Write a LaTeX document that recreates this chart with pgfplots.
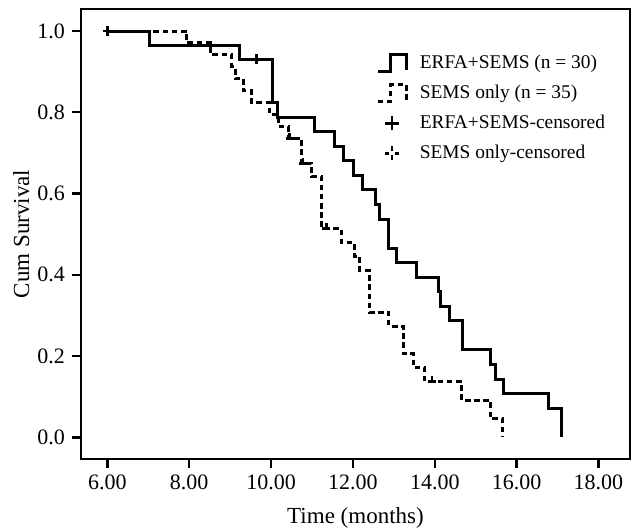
\documentclass[border=0pt]{standalone}
\usepackage{fontspec}
\setmainfont{Liberation Serif}
\usepackage{pgfplots}
\pgfplotsset{compat=1.18}

% censor tick for the dashed curve: a short upright stroke on the line
\pgfdeclareplotmark{censorT}{%
  \pgfpathmoveto{\pgfqpoint{-\pgfplotmarksize}{0pt}}%
  \pgfpathlineto{\pgfqpoint{\pgfplotmarksize}{0pt}}%
  \pgfpathmoveto{\pgfqpoint{0pt}{0pt}}%
  \pgfpathlineto{\pgfqpoint{0pt}{1.4\pgfplotmarksize}}%
  \pgfusepathqstroke}

\tikzset{
  kmdash/.style={dash pattern=on 2.8pt off 1.8pt},
}
\pgfplotsset{
  stepleg/.style={legend image code/.code={
    \path[draw=none, fill=none] (0cm,-0.16cm) rectangle (0.5cm,0.16cm);
    \draw[##1] (0cm,-0.15cm) -- (0.23cm,-0.15cm) -- (0.23cm,0.15cm)
      -- (0.5cm,0.15cm) -- (0.5cm,-0.12cm);}},
}

\begin{document}
\begin{tikzpicture}
\begin{axis}[
  scale only axis,
  width=274.5pt, height=225pt,
  xmin=5.355, xmax=18.77,
  ymin=-0.0534, ymax=1.0542,
  xtick={6,8,10,12,14,16,18},
  ytick={0,0.2,0.4,0.6,0.8,1},
  /pgf/number format/assume math mode=true,
  x tick label style={/pgf/number format/.cd, fixed, fixed zerofill, precision=2},
  y tick label style={/pgf/number format/.cd, fixed, fixed zerofill, precision=1},
  tick label style={font=\fontsize{11pt}{13pt}\selectfont},
  xtick pos=bottom, ytick pos=left,
  tick align=outside,
  major tick length=4.5pt,
  tick style={line width=1.2pt, black},
  axis line style={line width=0.9pt},
  xlabel={Time (months)},
  ylabel={Cum Survival},
  label style={font=\fontsize{11.5pt}{14pt}\selectfont},
  xlabel style={at={(axis description cs:0.5,-0.131)}, anchor=center},
  ylabel style={at={(axis description cs:-0.109,0.5)}, anchor=center},
  legend style={draw=none, fill=none, inner sep=0pt, outer sep=0pt,
    at={(axis description cs:0.538,0.907)}, anchor=north west,
    font=\fontsize{9.7pt}{12pt}\selectfont, row sep=2.8pt,
    /tikz/every odd column/.append style={column sep=4pt}},
  legend cell align=left,
]

% ERFA+SEMS (n = 30)
\addplot[const plot, black, line width=1.5pt, stepleg]
coordinates {
(6.00,1.0000) (7.02,0.9655) (9.24,0.9310) (10.04,0.8236) (10.15,0.7878)
(11.05,0.7520) (11.55,0.7162) (11.76,0.6804) (12.01,0.6446) (12.24,0.6088)
(12.56,0.5729) (12.66,0.5371) (12.86,0.4655) (13.07,0.4297) (13.56,0.3939)
(14.09,0.3581) (14.15,0.3223) (14.35,0.2865) (14.67,0.2149) (15.37,0.1790)
(15.49,0.1432) (15.67,0.1074) (16.77,0.0716) (17.10,0.0000)
};
\addlegendentry{ERFA+SEMS (n = 30)}

% SEMS only (n = 35)
\addplot[const plot, black, line width=1.5pt, kmdash, stepleg]
coordinates {
(6.00,1.0000) (7.94,0.9706) (8.52,0.9412) (9.04,0.9118) (9.12,0.8824)
(9.32,0.8529) (9.53,0.8235) (9.97,0.7941) (10.18,0.7647) (10.42,0.7353)
(10.75,0.6740) (10.99,0.6419) (11.24,0.5135) (11.71,0.4793) (12.03,0.4451)
(12.17,0.4108) (12.40,0.3081) (12.88,0.2739) (13.23,0.2054) (13.48,0.1712)
(13.76,0.1369) (14.66,0.0913) (15.36,0.0456) (15.66,0.0000)
};
\addlegendentry{SEMS only (n = 35)}

% ERFA+SEMS censored
\addplot[only marks, black, mark=+, mark size=2.4pt, line width=1.3pt,
  legend image code/.code={
    \path[draw=none, fill=none] (0cm,-0.16cm) rectangle (0.5cm,0.16cm);
    \draw[line width=1.4pt] (0.25cm,-3.5pt) -- (0.25cm,3.5pt);
    \draw[line width=1.4pt] (0.25cm,0pt) ++(-3.6pt,0pt) -- ++(7.2pt,0pt);}]
coordinates {(6.00,1.0000) (9.65,0.9310)};
\addlegendentry{ERFA+SEMS-censored}

% SEMS only censored
\addplot[only marks, black, mark=censorT, mark size=2pt, line width=1.3pt,
  legend image code/.code={
    \path[draw=none, fill=none] (0cm,-0.16cm) rectangle (0.5cm,0.16cm);
    \draw[line width=1.3pt] (0.25cm,0pt) ++(-3.6pt,0pt) -- ++(2.3pt,0pt);
    \draw[line width=1.3pt] (0.25cm,0pt) ++(1.3pt,0pt) -- ++(2.3pt,0pt);
    \draw[line width=1.3pt] (0.25cm,0pt) ++(0pt,1pt) -- ++(0pt,2.5pt);
    \draw[line width=1.3pt] (0.25cm,0pt) ++(0pt,-1pt) -- ++(0pt,-2.5pt);}]
coordinates {(10.45,0.7353) (10.78,0.6740) (11.35,0.5135) (13.93,0.1369)};
\addlegendentry{SEMS only-censored}

\coordinate (ll) at (rel axis cs:0,0);
\coordinate (ur) at (rel axis cs:1,1);
\end{axis}
\pgfresetboundingbox
\path ([shift={(-40.5pt,-36pt)}]ll) rectangle ([shift={(1pt,4.5pt)}]ur);
\end{tikzpicture}
\end{document}
